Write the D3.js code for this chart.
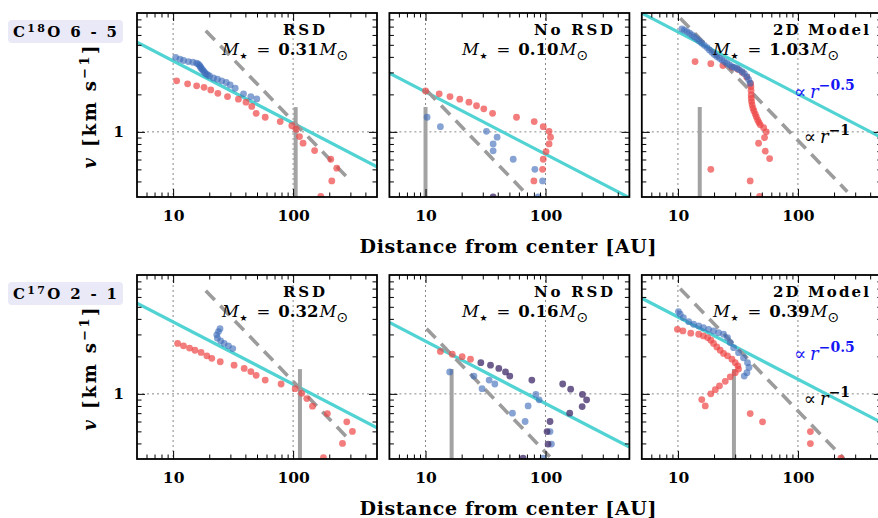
<!DOCTYPE html>
<html><head><meta charset="utf-8">
<script src="https://cdn.jsdelivr.net/npm/d3@7"></script>
<style>body{margin:0;background:#fff}svg{display:block}</style>
</head><body><svg id="c" width="878" height="518"></svg>
<script>
// ---------- data ----------
const panelTitles = ["RSD", "No RSD", "2D Model"];
const rowLabels = [["C", "18", "O 6 - 5"], ["C", "17", "O 2 - 1"]];
const masses = [["0.31", "0.10", "1.03"], ["0.32", "0.16", "0.39"]];
const xTickValues = [10, 100];
const yTickValues = [1];
const xMinorTicks = [6, 7, 8, 9, 20, 30, 40, 50, 60, 70, 80, 90, 200, 300, 400];
const yMinorTicks = [0.4, 0.5, 0.6, 0.7, 0.8, 0.9, 2, 3, 4, 5, 6, 7, 8];
// v = c * r^-0.5  (cyan)
const fitCoef = [[11.74, 6.62, 20.06], [11.96, 8.36, 13.1]];
// v = c * r^-1 (grey dashed) and its r-range
const kepCoef = [[121.5, 22, 85.4], [126, 34, 73]];
const kepRange = [[[18.7, 298], [10.2, 67.2], [10.45, 258]], [[18.7, 298], [10.2, 108.6], [10.45, 241.7]]];
// vertical bar (beam) radius and top value
const barR = [[105, 10, 15.2], [114, 16.5, 29.3]];
const barTop = 1.58;

const p00Red = [[10.7,2.57],[13.2,2.43],[15.7,2.34],[18.1,2.28],[20.6,2.17],[23.6,2.04],[28.4,1.92],[35.0,1.83],[40.5,1.73],[45.2,1.60],[49.2,1.41],[58.5,1.31],[78.0,1.21],[97.5,1.12],[106,1.05],[113,0.917],[121,0.811],[151,0.708],[206,0.603],[231,0.511],[210,0.404],[170,0.303]];
const p00Blue = [[10.5,3.97],[11.4,3.83],[12.2,3.74],[13.4,3.67],[14.6,3.62],[15.7,3.56],[16.2,3.5],[16.6,3.41],[16.9,3.33],[17.1,3.24],[17.5,3.17],[17.9,3.09],[18.3,3.0],[18.8,2.92],[19.4,2.86],[20.1,2.81],[21.7,2.71],[23.4,2.65],[25.4,2.57],[27.7,2.49],[29.9,2.38],[32.9,2.24],[38.6,2.02],[44.4,1.92],[49.8,1.84]];
const p00Purple = [];

const p01Red = [[10.0,2.13],[13.0,2.02],[16.0,1.92],[19.3,1.83],[23.0,1.73],[26.6,1.62],[30.6,1.53],[36.2,1.41],[57.3,1.31],[80.5,1.21],[95.7,1.10],[107,1.01],[110,0.906],[107,0.80],[101,0.695],[95.7,0.603],[94.5,0.50],[80.0,0.404]];
const p01Blue = [[10.3,1.31],[13.3,1.10],[32.2,1.01],[39.5,0.906],[36.6,0.80],[36.6,0.704],[53.8,0.603],[81.5,0.50],[94.5,0.404],[86.9,0.30]];
const p01Purple = [[36.6,0.30]];

const p02Red = [[13.9,3.67],[18.8,3.53],[23.7,3.41],[28.2,3.3],[31.5,3.18],[34.5,3.0],[37.5,2.75],[40.3,2.45],[40.6,2.31],[40.7,2.15],[40.8,1.98],[40.9,1.86],[41.1,1.75],[41.5,1.65],[42.2,1.55],[43.0,1.47],[44.1,1.39],[45.0,1.32],[46.1,1.25],[47.3,1.19],[48.6,1.14],[51.8,1.08],[54.5,1.0],[52.7,0.90],[47.0,0.81],[53.4,0.70],[58.1,0.61],[18.8,0.50],[40.0,0.404],[47.9,0.303]];
const p02Blue = [[10.8,6.71],[11.3,6.55],[11.9,6.38],[12.5,6.2],[13.1,6.0],[13.7,5.78],[14.4,5.57],[15.1,5.36],[15.8,5.15],[16.6,4.95],[17.5,4.75],[18.3,4.55],[19.2,4.36],[20.1,4.18],[21.1,4.02],[22.2,3.9],[23.3,3.78],[24.4,3.67],[25.6,3.56],[26.9,3.45],[28.2,3.34],[29.6,3.29],[31.0,3.24],[32.5,3.15],[34.1,3.05],[35.8,2.93],[37.6,2.78],[38.9,2.62],[40.0,2.46]];
const p02Purple = [];

const p10Red = [[10.9,2.54],[12.2,2.43],[13.7,2.33],[15.2,2.24],[17.1,2.15],[19.1,2.02],[21.0,1.93],[24.7,1.81],[32.2,1.70],[39.1,1.60],[44.4,1.51],[49.2,1.41],[58.5,1.29],[79.4,1.20],[104,1.10],[118,1.01],[130,0.917],[145,0.796],[193,0.695],[280,0.596],[312,0.499],[258,0.40],[179,0.308]];
const p10Blue = [[24.6,3.34],[23.9,3.16],[23.1,2.98],[23.4,2.80],[24.9,2.66],[26.6,2.54],[28.9,2.43],[31.4,2.31]];
const p10Purple = [];

const p11Red = [[13.3,2.19],[16.7,2.08],[20.2,1.99],[23.7,1.90]];
const p11Blue = [[15.9,1.50],[25.3,1.39],[33.9,1.29],[37.8,1.20],[29.6,1.10],[83,0.99],[88.5,0.895],[71.6,0.80],[53,0.70],[67.6,0.60],[109,0.498],[112,0.395],[95.5,0.305]];
const p11Purple = [[28.9,1.78],[34.8,1.70],[40.8,1.60],[46.4,1.50],[50.4,1.39],[76.9,1.29],[139,1.20],[162,1.09],[203,0.99],[220,0.895],[202,0.79],[159,0.70],[109,0.60],[103,0.498],[105,0.395],[65,0.305]];

const p12Red = [[9.9,3.30],[11.0,3.20],[12.8,3.07],[14.9,3.01],[16.3,2.92],[17.7,2.83],[18.8,2.70],[19.8,2.54],[21.1,2.38],[22.5,2.24],[24.0,2.11],[25.9,2.02],[28.2,1.90],[30.0,1.78],[31.6,1.68],[32.0,1.58],[30.0,1.48],[27.3,1.37],[24.8,1.26],[22.2,1.16],[20.5,1.08],[18.8,1.0],[15.8,0.90],[16.9,0.80],[40.0,0.695],[50.7,0.596],[127,0.498],[127,0.399],[228,0.305]];
const p12Blue = [[10.1,4.58],[10.45,4.36],[11.1,4.10],[12.3,3.80],[13.5,3.62],[14.9,3.51],[16.3,3.40],[18.0,3.30],[19.8,3.20],[21.8,3.10],[24.0,3.01],[25.9,2.83],[27.3,2.58],[29.1,2.35],[32.0,2.14],[35.2,1.95],[38.0,1.78],[39.1,1.63],[37.6,1.48],[35.7,1.39]];
const p12Purple = [];

const redSets = [[p00Red, p01Red, p02Red], [p10Red, p11Red, p12Red]];
const blueSets = [[p00Blue, p01Blue, p02Blue], [p10Blue, p11Blue, p12Blue]];
const purpleSets = [[p00Purple, p01Purple, p02Purple], [p10Purple, p11Purple, p12Purple]];

// ---------- layout ----------
const X0 = [137, 389.4, 641.8], Y0 = [13, 275], W = 240, H = 184;
const FONT = "'DejaVu Serif', serif";
const SYM = "'DejaVu Sans', sans-serif";
const titleRight = [188, 223.6, 227.2];     // relative to panel left
const titleWidth = [42, 79, 96];
const massLeft = [85, 72.6, 71.2];
const svg = d3.select("#c");

for (let ri = 0; ri < 2; ri++) {
  for (let ci = 0; ci < 3; ci++) {
    const x = d3.scaleLog().domain([5, 500]).range([X0[ci], X0[ci] + W]);
    const y = d3.scaleLog().domain([0.3, 9]).range([Y0[ri] + H, Y0[ri]]);
    const g = svg.append("g");
    const cid = `clip${ri}${ci}`;
    g.append("clipPath").attr("id", cid).append("rect")
      .attr("x", X0[ci]).attr("y", Y0[ri]).attr("width", W).attr("height", H);
    const pg = g.append("g").attr("clip-path", `url(#${cid})`);

    // grid
    xTickValues.forEach(t => pg.append("line").attr("x1", x(t)).attr("x2", x(t))
      .attr("y1", Y0[ri]).attr("y2", Y0[ri] + H)
      .attr("stroke", "#555").attr("stroke-width", 0.7).attr("stroke-dasharray", "2,3"));
    yTickValues.forEach(t => pg.append("line").attr("y1", y(t)).attr("y2", y(t))
      .attr("x1", X0[ci]).attr("x2", X0[ci] + W)
      .attr("stroke", "#555").attr("stroke-width", 0.7).attr("stroke-dasharray", "2,3"));

    const line = d3.line().x(d => x(d[0])).y(d => y(d[1]));
    // vertical bar
    pg.append("path").attr("d", line([[barR[ri][ci], 0.3], [barR[ri][ci], barTop]]))
      .attr("stroke", "#a3a3a3").attr("stroke-width", 4).attr("fill", "none");
    // cyan r^-0.5
    const c = fitCoef[ri][ci];
    pg.append("path").attr("d", line([5, 500].map(r => [r, c / Math.sqrt(r)])))
      .attr("stroke", "#52d3d3").attr("stroke-width", 3.2).attr("fill", "none");
    // grey dashed r^-1
    const k = kepCoef[ri][ci];
    pg.append("path").attr("d", line(kepRange[ri][ci].map(r => [r, k / r])))
      .attr("stroke", "#9c9c9c").attr("stroke-width", 3.6).attr("fill", "none")
      .attr("stroke-dasharray", "13,8");

    const dots = (data, fill, op) => pg.append("g").selectAll("circle").data(data).join("circle")
      .attr("cx", d => x(d[0])).attr("cy", d => y(d[1])).attr("r", 3.4)
      .attr("fill", fill).attr("fill-opacity", op);
    dots(redSets[ri][ci], "#ee4444", 0.7);
    dots(blueSets[ri][ci], "#3b6bb8", 0.62);
    dots(purpleSets[ri][ci], "#4a3670", 0.8);

    // axes (inward ticks)
    const addAxis = (fn, scale, vals, size, labels, tr) => {
      const ax = fn(scale).tickValues(vals).tickSizeInner(-size).tickSizeOuter(0)
        .tickPadding(13).tickFormat(labels ? d3.format("d") : () => "");
      const a = g.append("g").attr("transform", tr).call(ax);
      a.select(".domain").remove();
      a.selectAll("line").attr("stroke", "#000").attr("stroke-width", 1);
      a.selectAll("text").attr("font-family", FONT).attr("font-weight", "bold")
        .attr("font-size", 15.5).attr("fill", "#000");
    };
    const bottom = `translate(0,${Y0[ri] + H})`, top = `translate(0,${Y0[ri]})`;
    const left = `translate(${X0[ci]},0)`, right = `translate(${X0[ci] + W},0)`;
    addAxis(d3.axisBottom, x, xTickValues, 8, true, bottom);
    addAxis(d3.axisBottom, x, xMinorTicks, 4.5, false, bottom);
    addAxis(d3.axisTop, x, xTickValues, 8, false, top);
    addAxis(d3.axisTop, x, xMinorTicks, 4.5, false, top);
    addAxis(d3.axisLeft, y, yTickValues, 8, ci === 0, left);
    addAxis(d3.axisLeft, y, yMinorTicks, 4.5, false, left);
    addAxis(d3.axisRight, y, yTickValues, 8, false, right);
    addAxis(d3.axisRight, y, yMinorTicks, 4.5, false, right);

    // frame
    g.append("rect").attr("x", X0[ci]).attr("y", Y0[ri]).attr("width", W).attr("height", H)
      .attr("fill", "none").attr("stroke", "#000").attr("stroke-width", 1.8);

    // titles
    g.append("text").attr("x", X0[ci] + titleRight[ci]).attr("y", Y0[ri] + 21.5)
      .attr("text-anchor", "end").attr("font-family", FONT).attr("font-weight", "bold")
      .attr("font-size", 15).attr("textLength", titleWidth[ci]).attr("lengthAdjust", "spacing")
      .text(panelTitles[ci]);
    const mt = g.append("text").attr("x", X0[ci] + massLeft[ci]).attr("y", Y0[ri] + 41.5)
      .attr("font-family", FONT).attr("font-size", 16.5).attr("fill", "#000");
    mt.append("tspan").attr("font-style", "italic").text("M");
    mt.append("tspan").attr("font-family", SYM).attr("font-size", 9).attr("dy", 4).attr("dx", 0.5).text("★");
    mt.append("tspan").attr("dy", -4).attr("dx", 9).text("=");
    mt.append("tspan").attr("dx", 8).attr("font-weight", "bold").text(masses[ri][ci]);
    mt.append("tspan").attr("dx", 1).attr("font-style", "italic").text("M");
    mt.append("tspan").attr("font-family", SYM).attr("font-size", 14).attr("dy", 5).text("⊙");

    if (ci === 2) {
      const t1 = g.append("text").attr("x", x(92.6)).attr("y", y(1.87))
        .attr("font-family", FONT).attr("font-size", 18).attr("fill", "#1414f5");
      t1.append("tspan").text("∝");
      t1.append("tspan").attr("dx", 4).attr("font-style", "italic").text("r");
      t1.append("tspan").attr("dy", -8).attr("font-size", 14).attr("font-weight", "bold").text("−0.5");
      const t2 = g.append("text").attr("x", x(112)).attr("y", y(0.81))
        .attr("font-family", FONT).attr("font-size", 18).attr("fill", "#000");
      t2.append("tspan").text("∝");
      t2.append("tspan").attr("dx", 4).attr("font-style", "italic").text("r");
      t2.append("tspan").attr("dy", -8).attr("font-size", 14).attr("font-weight", "bold").text("−1");
    }
  }

  // row label
  const ly = Y0[ri];
  svg.append("rect").attr("x", 8).attr("y", ly + 7).attr("width", 115).attr("height", 23)
    .attr("rx", 4).attr("fill", "#e9e9f7");
  const rl = svg.append("text").attr("x", 13).attr("y", ly + 23.5).attr("font-family", FONT)
    .attr("font-weight", "bold").attr("font-size", 15).attr("textLength", 104)
    .attr("lengthAdjust", "spacing");
  rl.append("tspan").text(rowLabels[ri][0]);
  rl.append("tspan").attr("dy", -5).attr("font-size", 11).text(rowLabels[ri][1]);
  rl.append("tspan").attr("dy", 5).text(rowLabels[ri][2]);

  // y label
  const yl = svg.append("text").attr("transform", `translate(96,${Y0[ri] + H / 2 + 2}) rotate(-90)`)
    .attr("text-anchor", "middle").attr("font-family", FONT).attr("font-weight", "bold")
    .attr("font-size", 18).attr("textLength", 123).attr("lengthAdjust", "spacing");
  yl.append("tspan").attr("font-style", "italic").text("v");
  yl.append("tspan").text(" [km s");
  yl.append("tspan").attr("dy", -7).attr("font-size", 13).text("−1");
  yl.append("tspan").attr("dy", 7).text("]");

  // x label
  svg.append("text").attr("x", 508).attr("y", Y0[ri] + 240).attr("text-anchor", "middle")
    .attr("font-family", FONT).attr("font-weight", "bold").attr("font-size", 19)
    .attr("textLength", 297).attr("lengthAdjust", "spacing")
    .text("Distance from center [AU]");
}
</script></body></html>
